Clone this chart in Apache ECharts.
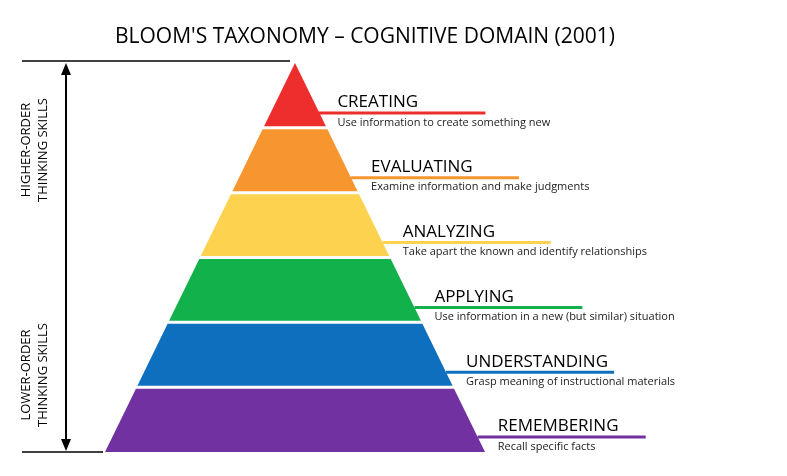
<!DOCTYPE html>
<html><head><meta charset="utf-8">
<script src="https://cdn.jsdelivr.net/npm/echarts@6/dist/echarts.min.js"></script>
<style>html,body{margin:0;padding:0;background:#fff}#c{width:787px;height:476px}</style>
</head><body><div id="c"></div>
<script>
const title = "BLOOM'S TAXONOMY – COGNITIVE DOMAIN (2001)";
const levels = ["CREATING","EVALUATING","ANALYZING","APPLYING","UNDERSTANDING","REMEMBERING"];
const descriptions = ["Use information to create something new","Examine information and make judgments","Take apart the known and identify relationships","Use information in a new (but similar) situation","Grasp meaning of instructional materials","Recall specific facts"];
const colors = ["#EE2D2D","#F7962F","#FDD24F","#13B14C","#0F6FBF","#7131A0"];
const sideLabels = ["HIGHER-ORDER\nTHINKING SKILLS","LOWER-ORDER\nTHINKING SKILLS"];

const apex=[295,63], baseY=452, halfBase=190, gap=3;
const H=baseY-apex[1], step=H/levels.length;
function halfW(y){return (y-apex[1])/H*halfBase;}
const chart=echarts.init(document.getElementById('c'));
chart.setOption({
  animation:false,
  title:{text:title,left:360,top:22,textAlign:'center',textStyle:{fontFamily:'Open Sans',fontWeight:'normal',fontSize:21,color:'#000'}},
  grid:{left:0,right:0,top:0,bottom:0},
  xAxis:{type:'value',min:0,max:787,show:false},
  yAxis:{type:'value',min:0,max:476,inverse:true,show:false},
  series:[{
    type:'custom',coordinateSystem:'cartesian2d',
    data:levels.map((n,i)=>[i]),
    renderItem:function(params,api){
      const i=api.value(0);
      const y0=apex[1]+i*step+(i?gap/2:0), y1=apex[1]+(i+1)*step-(i<levels.length-1?gap/2:0);
      const pts=[[apex[0]-halfW(y0),y0],[apex[0]+halfW(y0),y0],[apex[0]+halfW(y1),y1],[apex[0]-halfW(y1),y1]].map(p=>api.coord(p));
      const ly=apex[1]+(i+0.77)*step;
      const lx0=apex[0]+halfW(ly)+ (i===0?-2:0), lx1=lx0+168;
      const a=api.coord([lx0,ly]), b=api.coord([lx1,ly]);
      return {type:'group',children:[
        {type:'polygon',shape:{points:pts},style:{fill:colors[i]}},
        {type:'line',shape:{x1:a[0],y1:a[1],x2:b[0],y2:b[1]},style:{stroke:colors[i],lineWidth:3}},
        {type:'text',style:{text:levels[i],x:a[0]+20,y:a[1]-2,textVerticalAlign:'bottom',font:'17px "Open Sans"',fill:'#000'}},
        {type:'text',style:{text:descriptions[i],x:a[0]+20,y:a[1]+4,textVerticalAlign:'top',font:'11px "Open Sans"',fill:'#222'}}
      ]};
    }
  },{
    type:'custom',coordinateSystem:'cartesian2d',data:[[0]],
    renderItem:function(params,api){
      const c=p=>api.coord(p);
      const t1=c([22,61]),t2=c([290,61]),b1=c([22,452]),b2=c([103,452]),v1=c([66,68]),v2=c([66,446]);
      return {type:'group',children:[
        {type:'line',shape:{x1:t1[0],y1:t1[1],x2:t2[0],y2:t2[1]},style:{stroke:'#000',lineWidth:1.5}},
        {type:'line',shape:{x1:b1[0],y1:b1[1],x2:b2[0],y2:b2[1]},style:{stroke:'#000',lineWidth:1.5}},
        {type:'line',shape:{x1:v1[0],y1:v1[1],x2:v2[0],y2:v2[1]},style:{stroke:'#000',lineWidth:2}},
        {type:'polygon',shape:{points:[[66,63],[61,75],[71,75]].map(c)},style:{fill:'#000'}},
        {type:'polygon',shape:{points:[[66,451],[61,439],[71,439]].map(c)},style:{fill:'#000'}},
        {type:'text',x:c([35,150])[0],y:c([35,150])[1],rotation:Math.PI/2,style:{text:sideLabels[0],align:'center',verticalAlign:'middle',font:'13px "Open Sans"',lineHeight:17,fill:'#000'}},
        {type:'text',x:c([35,375])[0],y:c([35,375])[1],rotation:Math.PI/2,style:{text:sideLabels[1],align:'center',verticalAlign:'middle',font:'13px "Open Sans"',lineHeight:17,fill:'#000'}}
      ]};
    }
  }]
});
</script></body></html>
